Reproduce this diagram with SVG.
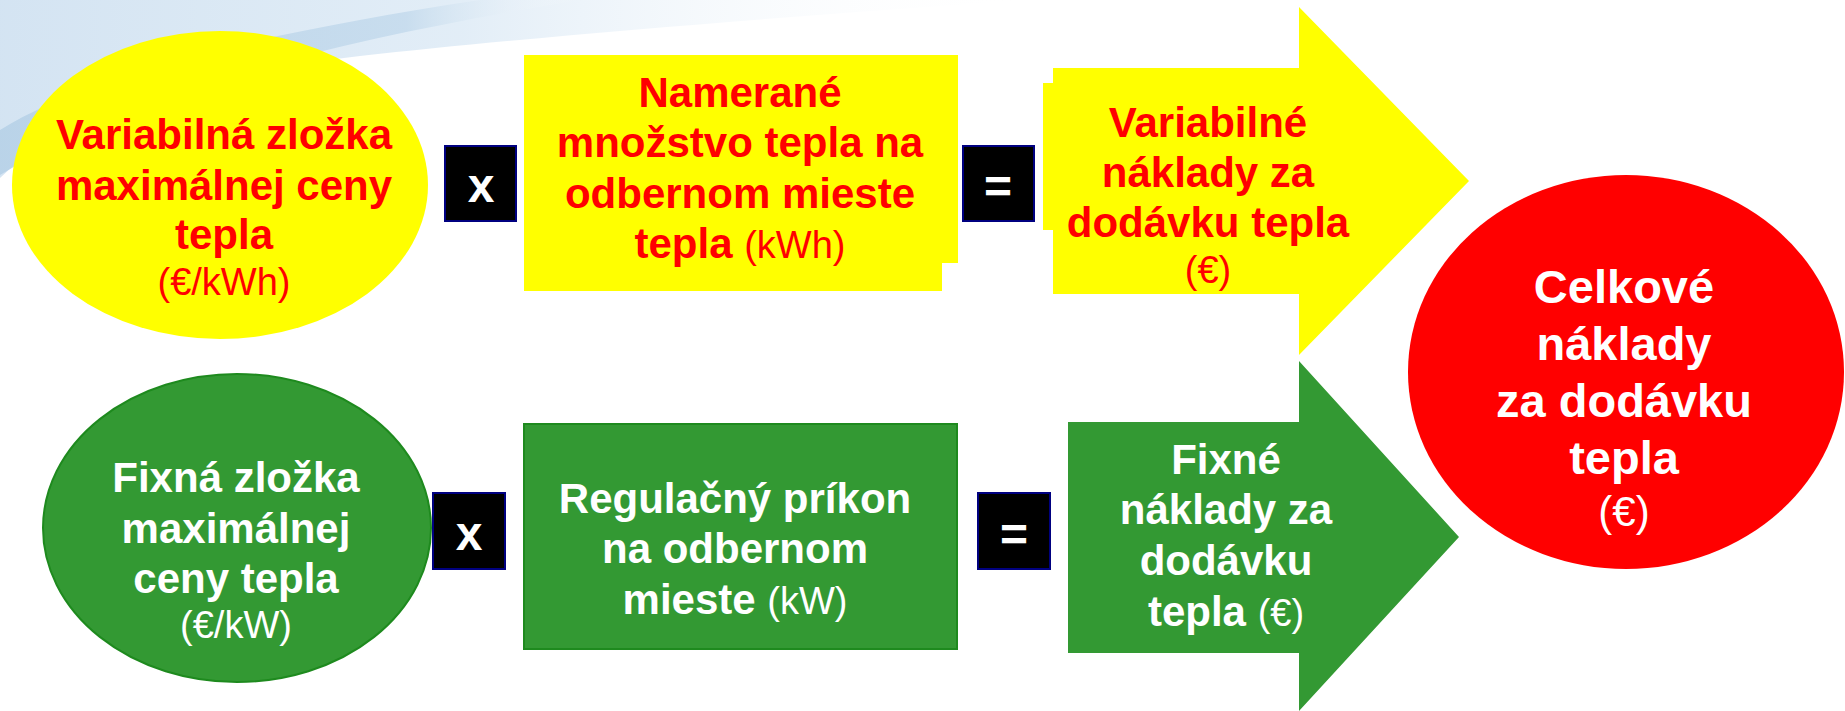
<svg xmlns="http://www.w3.org/2000/svg" width="1845" height="711" viewBox="0 0 1845 711">
<defs>
<linearGradient id="sw1" x1="0" y1="0" x2="1" y2="0">
<stop offset="0" stop-color="#c9ddef"/>
<stop offset="0.45" stop-color="#dbe9f5"/>
<stop offset="1" stop-color="#ffffff" stop-opacity="0"/>
</linearGradient>
<linearGradient id="sw2" x1="0" y1="0" x2="1" y2="0">
<stop offset="0" stop-color="#b3cfe6"/>
<stop offset="0.7" stop-color="#c2d9ec"/>
<stop offset="1" stop-color="#ffffff" stop-opacity="0"/>
</linearGradient>
</defs>
<style>
text{font-family:"Liberation Sans",Arial,sans-serif;text-anchor:middle}
.b{font-weight:bold;font-size:42px}
.r{font-weight:normal;font-size:38px}
.red{fill:#FF0000}
.wh{fill:#FFFFFF}
.op{fill:#000000;stroke:#000080;stroke-width:2}
.opt{fill:#FFFFFF;font-weight:bold;font-size:48px}
.yel{fill:#FFFF00}
.grn{fill:#339933}
.grs{stroke:#1E8A1E;stroke-width:2}
</style>
<rect width="1845" height="711" fill="#FFFFFF"/>
<g id="background">
<path d="M0,0 H1030 C820,14 560,34 360,56 C190,76 70,110 0,178 Z" fill="url(#sw1)" opacity="0.8"/>
<path d="M0,130 C90,75 250,35 480,0 H580 C340,40 150,85 0,175 Z" fill="url(#sw2)" opacity="0.8"/>
</g>
<g id="connectors">
<g id="op-x1"><rect class="op" x="445" y="146" width="71" height="75"/><text class="opt" x="481" y="202">x</text></g>
<g id="op-eq1"><rect class="op" x="963" y="146" width="71" height="75"/><text class="opt" x="998" y="203">=</text></g>
<g id="op-x2"><rect class="op" x="433" y="493" width="72" height="76"/><text class="opt" x="469" y="550">x</text></g>
<g id="op-eq2"><rect class="op" x="978" y="493" width="72" height="76"/><text class="opt" x="1014" y="551">=</text></g>
</g>
<g id="var-price">
<ellipse class="yel" cx="220" cy="185" rx="208" ry="154"/>
<text class="b red" x="224" y="149">Variabilná zložka</text>
<text class="b red" x="224" y="200">maximálnej ceny</text>
<text class="b red" x="224" y="249">tepla</text>
<text class="r red" x="224" y="295">(€/kWh)</text>
</g>
<g id="measured">
<polygon class="yel" points="524,55 958,55 958,263 942,263 942,291 524,291"/>
<text class="b red" x="740" y="107">Namerané</text>
<text class="b red" x="740" y="157">množstvo tepla na</text>
<text class="b red" x="740" y="208">odbernom mieste</text>
<text class="b red" x="740" y="258">tepla <tspan class="r">(kWh)</tspan></text>
</g>
<g id="var-costs">
<polygon class="yel" points="1053,68 1299,68 1299,7 1469,181 1299,355 1299,294 1053,294 1053,230 1043,230 1043,83 1053,83"/>
<text class="b red" x="1208" y="137">Variabilné</text>
<text class="b red" x="1208" y="187">náklady za</text>
<text class="b red" x="1208" y="237">dodávku tepla</text>
<text class="r red" x="1208" y="283">(€)</text>
</g>
<g id="total">
<ellipse fill="#FF0000" cx="1626" cy="372" rx="218" ry="197"/>
<text class="wh" x="1624" y="303" font-weight="bold" font-size="47">Celkové</text>
<text class="wh" x="1624" y="360" font-weight="bold" font-size="47">náklady</text>
<text class="wh" x="1624" y="417" font-weight="bold" font-size="47">za dodávku</text>
<text class="wh" x="1624" y="474" font-weight="bold" font-size="47">tepla</text>
<text class="wh" x="1624" y="526" font-size="42">(€)</text>
</g>
<g id="fix-price">
<ellipse class="grn grs" cx="237" cy="528" rx="194" ry="154"/>
<text class="b wh" x="236" y="492">Fixná zložka</text>
<text class="b wh" x="236" y="543">maximálnej</text>
<text class="b wh" x="236" y="593">ceny tepla</text>
<text class="r wh" x="236" y="638">(€/kW)</text>
</g>
<g id="reg-input">
<rect class="grn grs" x="524" y="424" width="433" height="225"/>
<text class="b wh" x="735" y="513">Regulačný príkon</text>
<text class="b wh" x="735" y="563">na odbernom</text>
<text class="b wh" x="735" y="614">mieste <tspan class="r">(kW)</tspan></text>
</g>
<g id="fix-costs">
<polygon class="grn" points="1068,422 1299,422 1299,361 1459,537 1299,711 1299,653 1068,653"/>
<text class="b wh" x="1226" y="474">Fixné</text>
<text class="b wh" x="1226" y="524">náklady za</text>
<text class="b wh" x="1226" y="575">dodávku</text>
<text class="b wh" x="1226" y="626">tepla <tspan class="r">(€)</tspan></text>
</g>
</svg>
